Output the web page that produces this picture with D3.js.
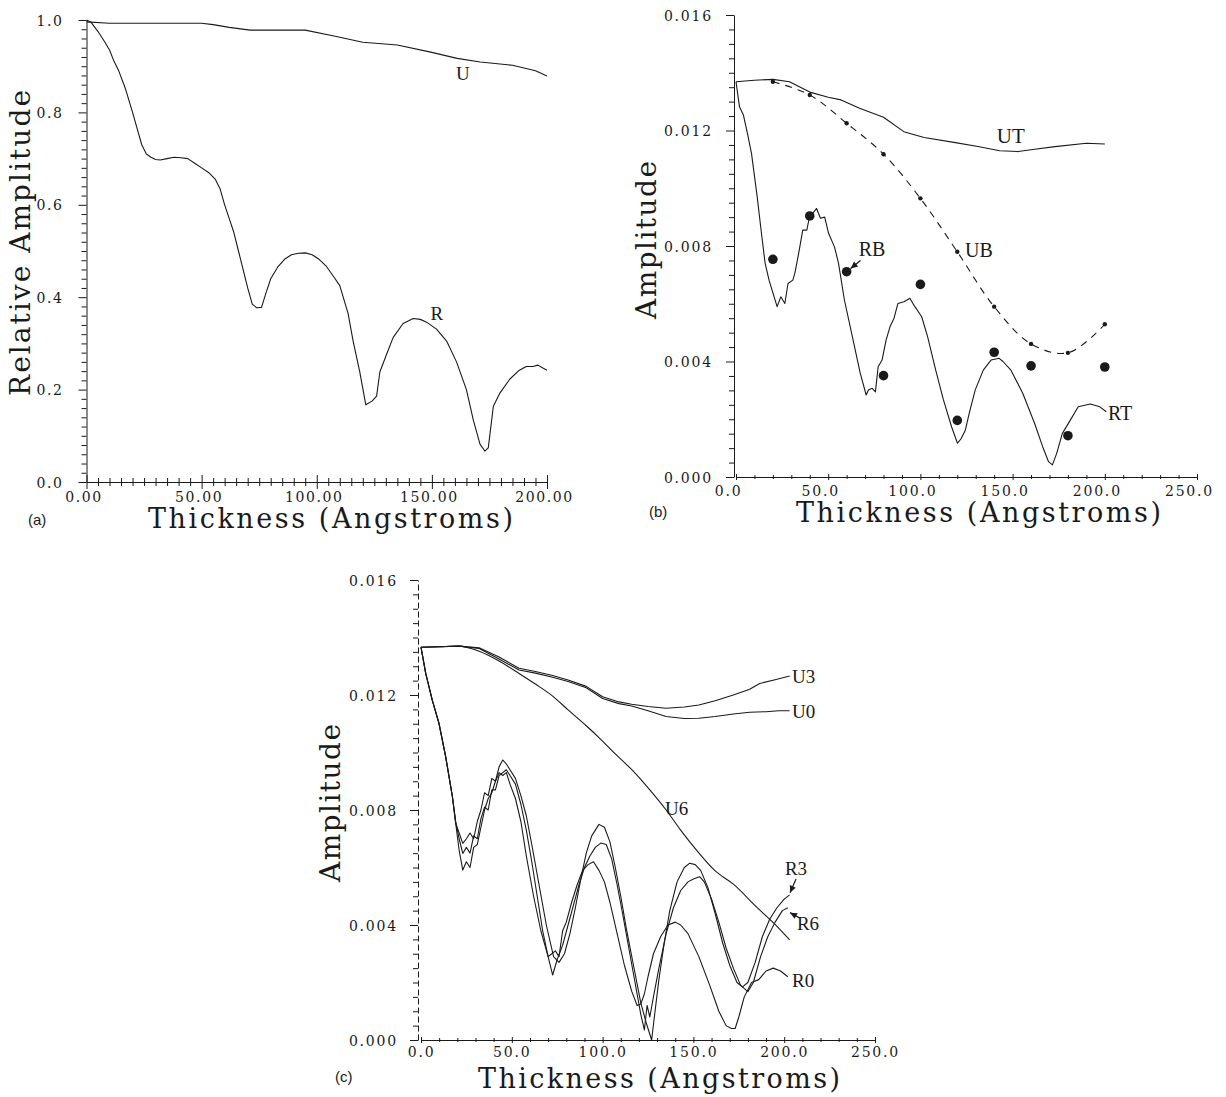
<!DOCTYPE html>
<html><head><meta charset="utf-8">
<script src="https://cdn.jsdelivr.net/npm/d3@7"></script>
<style>body{margin:0;background:#fff}</style>
</head><body>
<svg id="chart" width="1226" height="1097"></svg>
<script>
// ---------------- Panel (a) ----------------
const aR_t = [0,2,5,8,10,12,14,17,20,22,24,26,28,30,32,35,38,41,44,47,50,53,56,58,60,62,64,66,68,70,72,74,76,78,80,83,86,89,92,95,98,101,104,107,110,113.6,115.8,118.7,121.3,124,126,127.4,130.3,133.2,137.5,141.9,145,147.7,152,156.4,160.7,165,168,170.9,173,174.5,176.7,179.6,183.9,188,191,194,196,198.4,200];
const aR_v = [1.0,0.995,0.975,0.952,0.935,0.91,0.89,0.85,0.80,0.765,0.73,0.71,0.703,0.698,0.697,0.70,0.703,0.702,0.70,0.69,0.68,0.67,0.655,0.635,0.60,0.57,0.54,0.50,0.46,0.42,0.385,0.377,0.378,0.41,0.44,0.465,0.482,0.492,0.495,0.496,0.492,0.482,0.468,0.447,0.425,0.365,0.305,0.238,0.167,0.175,0.186,0.238,0.276,0.313,0.343,0.354,0.352,0.346,0.331,0.305,0.26,0.20,0.134,0.082,0.067,0.074,0.164,0.193,0.223,0.242,0.25,0.25,0.253,0.246,0.242];
const aU_t = [0,10,20,30,40,50,55,62,71,80,95,108,120,135,149,161,171,185,195,200];
const aU_v = [0.996,0.993,0.993,0.993,0.993,0.993,0.99,0.984,0.978,0.978,0.978,0.965,0.952,0.946,0.931,0.917,0.909,0.902,0.89,0.879];
const aXTicks = [0,50,100,150,200];
const aXLabels = ["0.00","50.00","100.00","150.00","200.00"];
const aYTicks = [0,0.2,0.4,0.6,0.8,1.0];
const aYLabels = ["0.0","0.2","0.4","0.6","0.8","1.0"];

// ---------------- Panel (b) ----------------
const bUT_t = [0,10,20,29,40,50,57,67,80,91,102,119,132,143,153,162,173,190,200];
const bUT_v = [0.01369,0.01374,0.01377,0.01369,0.01333,0.01315,0.01306,0.01277,0.01246,0.01196,0.01176,0.01158,0.01144,0.0113,0.01127,0.01135,0.01144,0.01156,0.01153];
const bUB_t = [20,40,60,80,100,120,140,160,180,200];
const bUB_v = [0.01369,0.01323,0.01225,0.01118,0.00965,0.0078,0.0059,0.00461,0.0043,0.00529];
const bRB_t = [20,40,60,80,100,120,140,160,180,200];
const bRB_v = [0.00754,0.00904,0.00711,0.00351,0.00667,0.00196,0.00432,0.00385,0.00143,0.00381];
const bRT_t = [0,1.9,4,6.2,8.4,11.5,13.8,15.8,18,20.1,22.3,24.3,26.5,28.2,30.8,31.9,34,36.2,38.4,39.5,41.5,43.7,45.8,48.1,50.2,53.4,55.6,58.8,63.1,67.4,70.6,71.8,73.9,75.6,77.1,79.2,81.4,83.5,85.7,87.8,91.1,94.3,96.4,100.7,103.9,108.3,112.5,116.9,120.1,122.2,124.4,126.5,129.7,134.1,138.3,142.7,144.8,149.1,155.5,161.9,166.3,169.5,171.6,173.9,177,181.3,185.6,192.1,197.3,200.8];
const bRT_v = [0.01369,0.01282,0.01254,0.0119,0.01121,0.0097,0.00844,0.0074,0.0068,0.00636,0.0059,0.00624,0.00601,0.0067,0.00682,0.00705,0.00775,0.00855,0.00855,0.0089,0.00912,0.0093,0.00896,0.009,0.00844,0.00797,0.0074,0.00613,0.00486,0.00359,0.00284,0.00301,0.00307,0.00295,0.00382,0.00405,0.00474,0.0052,0.0055,0.00601,0.00607,0.00619,0.00596,0.00555,0.00486,0.0037,0.00267,0.00174,0.00117,0.00134,0.00163,0.00221,0.00301,0.0037,0.00405,0.00411,0.004,0.0037,0.0029,0.00186,0.00105,0.00053,0.00042,0.00082,0.00151,0.00197,0.00243,0.00253,0.00243,0.00226];
const bXTicks = [0,50,100,150,200,250];
const bXLabels = ["0.0","50.0","100.0","150.0","200.0","250.0"];
const bYTicks = [0,0.004,0.008,0.012,0.016];
const bYLabels = ["0.000","0.004","0.008","0.012","0.016"];

// ---------------- Panel (c) ----------------
const cU0_t = [0,10,21,32,43,54,63,72.5,81,91,100,109,116,125,135,145,153,162,172,181,190,197,203];
const cU0_v = [0.01366,0.01368,0.0137,0.01362,0.01325,0.01287,0.01276,0.01262,0.01247,0.01225,0.01188,0.0117,0.01162,0.01145,0.01125,0.01118,0.01119,0.01125,0.01134,0.0114,0.01142,0.01145,0.01145];
const cU3_t = [0,10,21,32,43,54,63,72.5,81,91,100,109,116,125,135,145,153,162,172,181,186.5,195,203];
const cU3_v = [0.01366,0.01368,0.0137,0.01364,0.01332,0.01293,0.01282,0.01268,0.01252,0.0123,0.01194,0.01176,0.01168,0.0116,0.01154,0.01158,0.01165,0.0118,0.012,0.0122,0.0124,0.01253,0.01266];
const cU6_t = [0,10,21,32,43,54,63,72.5,81,91,98,107,116.6,126,135,143,151.6,162,172,185,194,203];
const cU6_v = [0.01366,0.01368,0.0137,0.01352,0.01318,0.01275,0.01238,0.01196,0.01148,0.01093,0.01052,0.00995,0.00937,0.0087,0.008,0.0073,0.00661,0.00588,0.00542,0.00461,0.00408,0.00348];
const cR0_t = [0,2.6,6.2,9.9,13.6,17.3,19.1,21,23,25,27,29,31,33,35,37,39,41,43,45,47,49,52,55,58,62,66,70,72,74,76,78,80,83,86,89,92,95,98,101,104,108,112,116,119,121,123,125,128,132,136,140,143,147,153,159,164,168,171,173,175,178,182,186,190,194,198,202];
const cR0_v = [0.01366,0.01275,0.01182,0.01101,0.00985,0.00846,0.00754,0.0066,0.00591,0.0062,0.006,0.0067,0.0068,0.0074,0.008,0.0084,0.0086,0.009,0.0093,0.0092,0.0093,0.0089,0.0084,0.0076,0.0064,0.005,0.0038,0.0029,0.003,0.0031,0.0029,0.0038,0.0041,0.0048,0.0054,0.0059,0.0061,0.0062,0.0059,0.0055,0.0048,0.0037,0.0026,0.0017,0.0012,0.00125,0.0016,0.0022,0.003,0.0036,0.004,0.0041,0.004,0.0037,0.0029,0.0019,0.001,0.0005,0.0004,0.0004,0.0008,0.0015,0.002,0.0021,0.0024,0.0025,0.0024,0.0022];
const cR3_t = [0,2.6,6.2,9.9,13.6,17.3,19.1,21,23,25,27,29,31,33,35,37,39,41,43,45,47,49,52,55,58,61,65,69,73,76,79,82,85,88,91,94,98,101,104,107,110,113,117,121,124,126,127,128.5,131,134,137,141,145,148,151,154,158,162,166,170,174,177,180,184,188,192,196,200,203];
const cR3_v = [0.01366,0.01275,0.01182,0.01101,0.00985,0.00846,0.00754,0.0072,0.00684,0.007,0.0072,0.007,0.0076,0.008,0.0086,0.0085,0.0091,0.009,0.0095,0.00974,0.0096,0.0094,0.0091,0.0085,0.0078,0.0068,0.0054,0.004,0.0029,0.0027,0.003,0.0037,0.0046,0.0056,0.0065,0.0071,0.0075,0.0074,0.0069,0.006,0.005,0.0039,0.0026,0.0013,0.0006,0.0002,0.0,0.0008,0.0021,0.0034,0.0045,0.0055,0.006,0.00615,0.0061,0.0059,0.0053,0.0044,0.0034,0.0026,0.002,0.00185,0.002,0.0027,0.0036,0.0042,0.0046,0.0049,0.00505];
const cR6_t = [0,2.6,6.2,9.9,13.6,17.3,19.1,21,23,25,27,29,31,33,35,37,39,41,43,45,47,49,52,55,58,61,64,67,70,72.5,75,78,81,84,87,90,93,96,99,102,105,108,111,115,119,121,123,124.5,126,128,131,135,139,143,147,150,153.4,156,160,164,168,172,176,180,183,187,191,195,199,202];
const cR6_v = [0.01366,0.01275,0.01182,0.01101,0.00985,0.00846,0.0076,0.007,0.00649,0.0067,0.0065,0.0071,0.007,0.0077,0.0081,0.008,0.0087,0.0087,0.0092,0.0093,0.0094,0.0092,0.0089,0.0082,0.0073,0.0062,0.005,0.0038,0.0029,0.00226,0.0028,0.0033,0.004,0.0047,0.0054,0.006,0.0064,0.0067,0.00685,0.0068,0.0063,0.0054,0.0044,0.003,0.0016,0.0009,0.00035,0.0012,0.0008,0.0015,0.0025,0.0037,0.0046,0.0052,0.0055,0.0056,0.00568,0.0055,0.0049,0.0041,0.0032,0.0025,0.0019,0.00168,0.002,0.0029,0.0036,0.0041,0.0045,0.0046];
const cXTicks = [0,50,100,150,200,250];
const cXLabels = ["0.0","50.0","100.0","150.0","200.0","250.0"];
const cYTicks = [0,0.004,0.008,0.012,0.016];
const cYLabels = ["0.000","0.004","0.008","0.012","0.016"];

// ---------------- drawing ----------------
const svg = d3.select("#chart");
svg.append("rect").attr("width",1226).attr("height",1097).attr("fill","#fff");
const INK = "#1a1a1a";
const tickFont = "'DejaVu Serif', serif";

function series(t, v) { return d3.zip(t, v); }

function drawAxes(p) {
  const g = svg.append("g");
  const yAx = d3.axisLeft(p.y).tickValues(p.yTicks).tickFormat((d,i)=>p.yLabels[i])
      .tickSize(8).tickSizeOuter(0).tickPadding(p.yPad);
  const gy = g.append("g").attr("transform",`translate(${p.axisX},0)`).call(yAx);
  gy.select(".domain").attr("stroke",INK).attr("stroke-width",1).attr("stroke-dasharray",p.yDash||null);
  gy.selectAll(".tick line").attr("stroke",INK);
  gy.selectAll("text").attr("font-family",tickFont).attr("font-size",14).attr("fill",INK)
     .attr("letter-spacing",p.ls).attr("dy","0.36em");
  const yMin = d3.axisLeft(p.y).tickValues(p.yMinor).tickFormat("").tickSize(5).tickSizeOuter(0);
  const gym = g.append("g").attr("transform",`translate(${p.axisX},0)`).call(yMin);
  gym.select(".domain").remove();
  gym.selectAll(".tick line").attr("stroke",INK);
  const xAx = d3.axisBottom(p.x).tickValues(p.xTicks).tickFormat((d,i)=>p.xLabels[i])
      .tickSize(p.xMajorSize).tickSizeOuter(0);
  const gx = g.append("g").attr("transform",`translate(0,${p.axisY})`).call(xAx);
  gx.select(".domain").attr("stroke",INK).attr("stroke-width",1);
  gx.selectAll(".tick line").attr("stroke",INK).attr("y1",-p.xMajorSize/2).attr("y2",p.xMajorSize/2);
  gx.selectAll("text").attr("font-family",tickFont).attr("font-size",14).attr("fill",INK)
     .attr("letter-spacing",p.ls).attr("y",p.xLabelDy).attr("dy","0").attr("dx",p.xLabelDx);
  const xMin = d3.axisBottom(p.x).tickValues(p.xMinor).tickFormat("").tickSize(p.xMinorSize).tickSizeOuter(0);
  const gxm = g.append("g").attr("transform",`translate(0,${p.axisY})`).call(xMin);
  gxm.select(".domain").remove();
  gxm.selectAll(".tick line").attr("stroke",INK).attr("y1",-p.xMinorSize/2).attr("y2",p.xMinorSize/2);
}

function drawLine(p, t, v, opts={}) {
  const line = d3.line().x(d=>p.x(d[0])).y(d=>p.y(d[1])).curve(opts.curve||d3.curveLinear);
  svg.append("path").datum(series(t,v)).attr("d",line).attr("fill","none")
    .attr("stroke",INK).attr("stroke-width",opts.w||1.1)
    .attr("stroke-dasharray",opts.dash||null).attr("stroke-linejoin","round");
}

function label(p, txt, t, v, anchor="middle", size=20) {
  svg.append("text").attr("x",p.x(t)).attr("y",p.y(v)).attr("text-anchor",anchor)
    .attr("font-family","'Liberation Serif', 'Times New Roman', serif").attr("font-size",size)
    .attr("fill",INK).text(txt);
}

function arrow(p, t0, v0, t1, v1) {
  const x0=p.x(t0), y0=p.y(v0), x1=p.x(t1), y1=p.y(v1);
  svg.append("line").attr("x1",x0).attr("y1",y0).attr("x2",x1).attr("y2",y1).attr("stroke",INK).attr("stroke-width",1.2);
  const ang = Math.atan2(y1-y0, x1-x0), L=7, W=3.2;
  const bx = x1 - L*Math.cos(ang), by = y1 - L*Math.sin(ang);
  const pts = [[x1,y1],[bx + W*Math.sin(ang), by - W*Math.cos(ang)],[bx - W*Math.sin(ang), by + W*Math.cos(ang)]];
  svg.append("polygon").attr("points",pts.map(q=>q.join(",")).join(" ")).attr("fill",INK);
}

function titles(xt, yt) {
  svg.append("text").attr("x",xt.x).attr("y",xt.y).attr("font-family",tickFont).attr("font-size",27)
    .attr("fill",INK).attr("textLength",xt.len).attr("lengthAdjust","spacing").text(xt.text);
  svg.append("text").attr("transform",`translate(${yt.x},${yt.cy}) rotate(-90)`).attr("text-anchor","middle")
    .attr("font-family",tickFont).attr("font-size",28).attr("fill",INK)
    .attr("textLength",yt.len).attr("lengthAdjust","spacing").text(yt.text);
}

function tag(txt, x, y) {
  svg.append("text").attr("x",x).attr("y",y).attr("font-family","'Liberation Sans', Arial, sans-serif")
    .attr("font-size",15).attr("fill",INK).text(txt);
}

// Panel (a)
const pa = {
  x: d3.scaleLinear().domain([0,200]).range([86.5,547]),
  y: d3.scaleLinear().domain([0,1]).range([482,20]),
  axisX: 86.5, axisY: 482, yPad: 15, ls: "1.6px",
  xTicks: aXTicks, xLabels: aXLabels, yTicks: aYTicks, yLabels: aYLabels,
  yMinor: d3.range(0,1.0001,0.02).filter(d=>Math.abs(d*5-Math.round(d*5))>1e-6),
  xMinor: d3.range(0,200.1,5).filter(d=>d%50!==0),
  xMajorSize: 14, xMinorSize: 8, xLabelDy: 20, xLabelDx: -3
};
drawAxes(pa);
drawLine(pa, aU_t, aU_v);
drawLine(pa, aR_t, aR_v);
label(pa, "U", 163.5, 0.870, "middle", 19);
label(pa, "R", 152.2, 0.351, "middle", 19);
titles({x:148, y:528, len:365, text:"Thickness (Angstroms)"}, {x:30, cy:243, len:306, text:"Relative Amplitude"});
tag("(a)", 28, 525);

// Panel (b)
const pb = {
  x: d3.scaleLinear().domain([0,250]).range([736,1197]),
  y: d3.scaleLinear().domain([0,0.016]).range([477,15]),
  axisX: 734, axisY: 477, yPad: 13, ls: "1.8px",
  xTicks: bXTicks, xLabels: bXLabels, yTicks: bYTicks, yLabels: bYLabels,
  yMinor: d3.range(0,0.01601,0.0005).filter(d=>Math.abs(d/0.004-Math.round(d/0.004))>1e-6),
  xMinor: d3.range(0,250.1,10).filter(d=>d%50!==0),
  xMajorSize: 6, xMinorSize: 4, xLabelDy: 19, xLabelDx: -8
};
drawAxes(pb);
drawLine(pb, bUT_t, bUT_v);
drawLine(pb, bUB_t, bUB_v, {dash:"7,6", curve:d3.curveCatmullRom});
drawLine(pb, bRT_t, bRT_v);
svg.append("g").selectAll("circle.ub").data(series(bUB_t,bUB_v)).join("circle")
  .attr("cx",d=>pb.x(d[0])).attr("cy",d=>pb.y(d[1])).attr("r",2.2).attr("fill",INK);
svg.append("g").selectAll("circle.rb").data(series(bRB_t,bRB_v)).join("circle")
  .attr("cx",d=>pb.x(d[0])).attr("cy",d=>pb.y(d[1])).attr("r",4.8).attr("fill",INK);
label(pb, "UT", 149, 0.01156, "middle", 21);
label(pb, "RB", 73.8, 0.00765, "middle", 20);
label(pb, "UB", 124.2, 0.00762, "start", 20);
label(pb, "RT", 201.7, 0.00197, "start", 20);
arrow(pb, 67.5, 0.0075, 62.2, 0.00722);
titles({x:796, y:522, len:365, text:"Thickness (Angstroms)"}, {x:656, cy:240, len:158, text:"Amplitude"});
tag("(b)", 649, 517);

// Panel (c)
const pc = {
  x: d3.scaleLinear().domain([0,250]).range([421,875]),
  y: d3.scaleLinear().domain([0,0.016]).range([1040,580]),
  axisX: 418, axisY: 1040, yPad: 12, ls: "1.8px", yDash: "6,3",
  xTicks: cXTicks, xLabels: cXLabels, yTicks: cYTicks, yLabels: cYLabels,
  yMinor: d3.range(0,0.01601,0.0005).filter(d=>Math.abs(d/0.004-Math.round(d/0.004))>1e-6),
  xMinor: d3.range(0,250.1,10).filter(d=>d%50!==0),
  xMajorSize: 6, xMinorSize: 4, xLabelDy: 17, xLabelDx: 0
};
drawAxes(pc);
drawLine(pc, cU0_t, cU0_v);
drawLine(pc, cU3_t, cU3_v);
drawLine(pc, cU6_t, cU6_v, {curve:d3.curveMonotoneX});
drawLine(pc, cR0_t, cR0_v);
drawLine(pc, cR3_t, cR3_v);
drawLine(pc, cR6_t, cR6_v);
label(pc, "U3", 204.3, 0.01242, "start", 19);
label(pc, "U0", 204.3, 0.0112, "start", 19);
label(pc, "U6", 134.4, 0.00783, "start", 19);
label(pc, "R3", 200.4, 0.00574, "start", 19);
label(pc, "R6", 207, 0.00383, "start", 19);
label(pc, "R0", 204.3, 0.00184, "start", 19);
arrow(pc, 206.5, 0.0056, 203.2, 0.00512);
arrow(pc, 208.6, 0.00424, 203.2, 0.00443);
titles({x:478, y:1088, len:362, text:"Thickness (Angstroms)"}, {x:340, cy:803, len:158, text:"Amplitude"});
tag("(c)", 335, 1082);
</script>
</body></html>
